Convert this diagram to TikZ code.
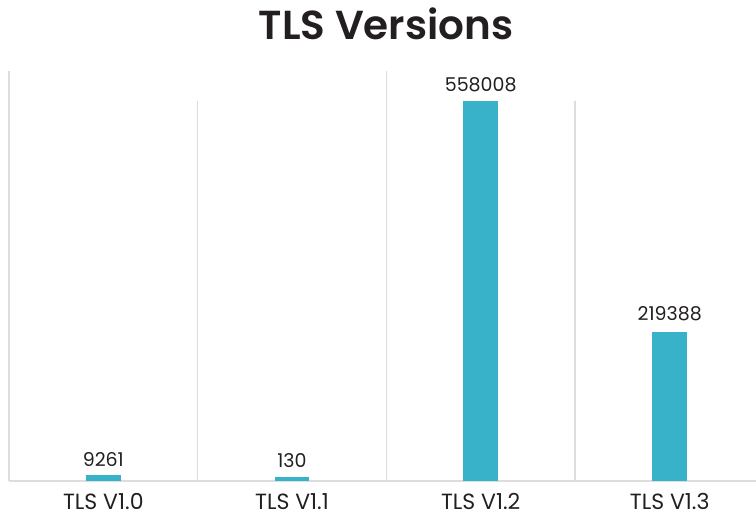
\documentclass[tikz,border=0pt]{standalone}
\usepackage{fontspec}
\setmainfont{Poppins}
\newfontfamily\titlefont{Poppins}[UprightFont={* SemiBold}]
\definecolor{barc}{RGB}{56,178,201}
\definecolor{gridc}{RGB}{221,221,221}
\definecolor{txt}{RGB}{35,31,32}
\begin{document}
\begin{tikzpicture}[x=1pt,y=-1pt,
  gridline/.style={draw=gridc,line width=1.2pt},
  bar/.style={fill=barc},
  vallabel/.style={anchor=base,text=txt,font=\fontsize{19}{22}\selectfont,inner sep=0pt},
  catlabel/.style={anchor=base,text=txt,font=\fontsize{22}{25}\selectfont,inner sep=0pt},
  titlelabel/.style={anchor=base,text=txt,font=\titlefont\fontsize{40.5}{46}\selectfont,inner sep=0pt}]
\useasboundingbox (0,0) rectangle (756,515);
% grid
\draw[gridline] (9,71) -- (9,481);
\draw[gridline] (197.5,101) -- (197.5,481);
\draw[gridline] (386.5,71) -- (386.5,481);
\draw[gridline] (575,101) -- (575,481);
\draw[gridline] (9,481) -- (756,481);
% bars
\fill[bar] (86,475) rectangle (120.5,481);
\fill[bar] (274.5,477.3) rectangle (309.3,481);
\fill[bar] (463.3,100.8) rectangle (498,481);
\fill[bar] (652.3,331.7) rectangle (687,481);
% value labels
\node[vallabel] (v1) at (103.3,466.7) {9261};
\node[vallabel] (v2) at (292,467.5) {130};
\node[vallabel] (v3) at (480.7,91) {558008};
\node[vallabel] (v4) at (669.7,320.7) {219388};
% category labels
\node[catlabel] (c1) at (103.3,509.5) {TLS V1.0};
\node[catlabel] (c2) at (292,509.5) {TLS V1.1};
\node[catlabel] (c3) at (480.7,509.5) {TLS V1.2};
\node[catlabel] (c4) at (669.7,509.5) {TLS V1.3};
% title
\node[titlelabel] (title) at (386,39) {TLS Versions};
\end{tikzpicture}
\end{document}
